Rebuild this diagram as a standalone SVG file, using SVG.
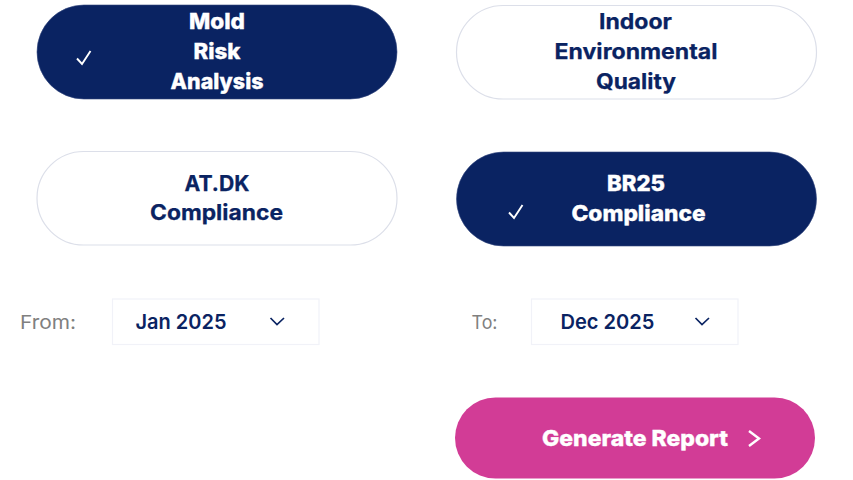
<svg xmlns="http://www.w3.org/2000/svg" width="853" height="480" viewBox="0 0 853 480">
<style>
text{font-family:"Inter","Noto Sans","Liberation Sans",sans-serif;text-anchor:middle}
.t{font-size:21.5px;font-weight:700;fill:#0a2362;stroke:#0a2362;stroke-width:.25}
.w{font-size:21.5px;font-weight:800;fill:#fff;stroke:#fff;stroke-width:.35}
.d{font-size:20.5px;font-weight:600;fill:#0a2362}
.l{font-size:19px;font-weight:400;fill:#808080}
.on{fill:#0a2362;stroke:#33477d;stroke-width:.6}
.off{fill:#fff;stroke:#dcdfe9;stroke-width:1.2}
.box{fill:#fff;stroke:#f1f2f8;stroke-width:1.2}
.ico{fill:none;stroke:#fff;stroke-width:1.9}
.chev{fill:none;stroke:#0a2362;stroke-width:1.7}
</style>
<rect width="853" height="480" fill="#fff"/>
<g id="mold-risk">
<rect class="on" x="37" y="5" width="360" height="94" rx="47"/>
<path class="ico" d="M77 58.500L82 64 90.500 51"/>
<text class="w" x="217" y="29" textLength="56" lengthAdjust="spacingAndGlyphs">Mold</text>
<text class="w" x="217" y="59" textLength="47" lengthAdjust="spacingAndGlyphs">Risk</text>
<text class="w" x="217" y="88.500" textLength="93" lengthAdjust="spacingAndGlyphs">Analysis</text>
</g>
<g id="indoor-quality">
<rect class="off" x="456.500" y="5.500" width="360" height="93.500" rx="46.700"/>
<text class="t" x="635.500" y="29" textLength="73" lengthAdjust="spacingAndGlyphs">Indoor</text>
<text class="t" x="636" y="59" textLength="163" lengthAdjust="spacingAndGlyphs">Environmental</text>
<text class="t" x="636" y="88.500" textLength="80" lengthAdjust="spacingAndGlyphs">Quality</text>
</g>
<g id="atdk">
<rect class="off" x="37" y="151.500" width="360" height="93.500" rx="46.700"/>
<text class="t" x="217" y="190.500" textLength="65" lengthAdjust="spacingAndGlyphs">AT.DK</text>
<text class="t" x="216.500" y="219.500" textLength="133" lengthAdjust="spacingAndGlyphs">Compliance</text>
</g>
<g id="br25">
<rect class="on" x="456.500" y="152" width="360" height="94" rx="47"/>
<path class="ico" d="M509 212.500L514 218 522.500 205"/>
<text class="w" x="636" y="190.500" textLength="58" lengthAdjust="spacingAndGlyphs">BR25</text>
<text class="w" x="638.500" y="220.500" textLength="134" lengthAdjust="spacingAndGlyphs">Compliance</text>
</g>
<g id="from">
<text class="l" x="48" y="328.500" textLength="56" lengthAdjust="spacingAndGlyphs">From:</text>
<rect class="box" x="112.500" y="299" width="206.500" height="45.500"/>
<text class="d" x="181" y="328.500" textLength="91" lengthAdjust="spacingAndGlyphs">Jan 2025</text>
<path class="chev" d="M270.500 318L277 324.500 284 318"/>
</g>
<g id="to">
<text class="l" x="484.500" y="328.500" textLength="26" lengthAdjust="spacingAndGlyphs">To:</text>
<rect class="box" x="531.500" y="299" width="206.500" height="45.500"/>
<text class="d" x="607.500" y="328.500" textLength="94" lengthAdjust="spacingAndGlyphs">Dec 2025</text>
<path class="chev" d="M695.500 318L702 324.500 709 318"/>
</g>
<g id="generate">
<rect x="455" y="397.500" width="360" height="81" rx="40.500" fill="#d23c96"/>
<text class="w" x="635" y="445.500" textLength="186" lengthAdjust="spacingAndGlyphs">Generate Report</text>
<path d="M749 431L759 438.500 749 446" fill="none" stroke="#fff" stroke-width="2.400"/>
</g>
<g id="connectors"/>
</svg>
